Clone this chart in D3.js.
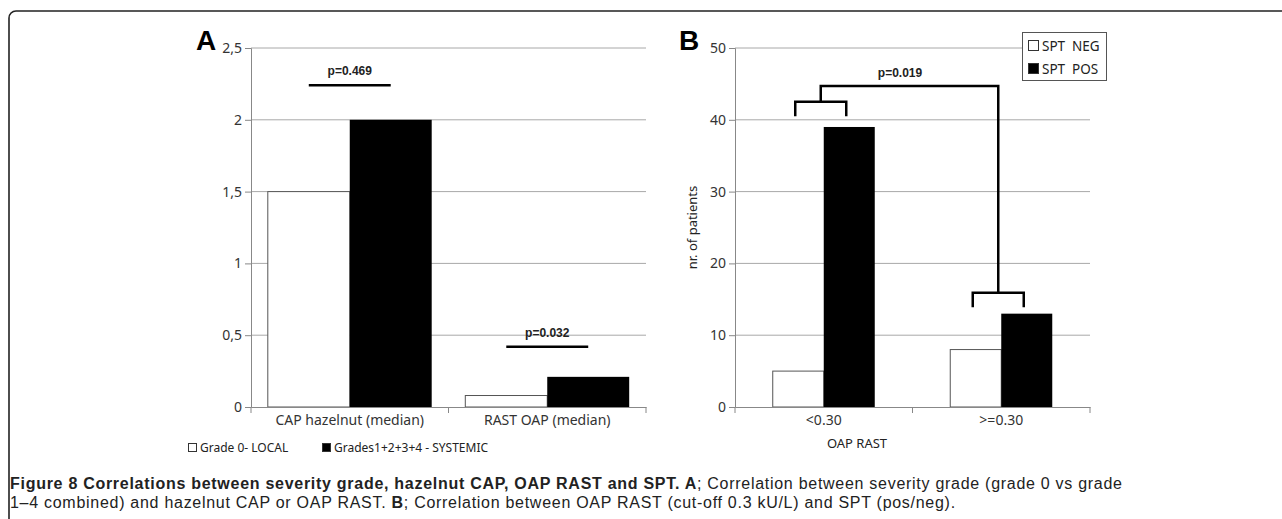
<!DOCTYPE html>
<html>
<head>
<meta charset="utf-8">
<script src="https://cdn.jsdelivr.net/npm/d3@7"></script>
<style>
  body { margin: 0; background: #fff; overflow: hidden; }
  svg { display: block; }
</style>
</head>
<body>
<script>
// panel A data: median values by severity grade
var catsA = ["CAP hazelnut (median)", "RAST OAP (median)"];
var localA = [1.5, 0.08];
var systemicA = [2, 0.21];
var ticksA = [0, 0.5, 1, 1.5, 2, 2.5];
var pLabelsA = ["p=0.469", "p=0.032"];
var pLineA = [2.24, 0.42];   // y value of the p-value bar

// panel B data: number of patients by OAP RAST cut-off
var catsB = ["<0.30", ">=0.30"];
var negB = [5, 8];
var posB = [39, 13];
var ticksB = [0, 10, 20, 30, 40, 50];

var W = 1282, H = 519;
var svg = d3.select("body").append("svg")
    .attr("width", W)
    .attr("height", H);

// frame: only the top and left sides show, rounded top-left corner
var frame = d3.path();
frame.moveTo(9, H + 5);
frame.lineTo(9, 18);
frame.arcTo(9, 11, 16, 11, 7);
frame.lineTo(W + 5, 11);
svg.append("path")
    .attr("d", frame.toString())
    .style("fill", "none")
    .style("stroke", "#222")
    .style("stroke-width", 1.6);

var axisFont = "'Noto Sans', 'Open Sans', sans-serif";

// ---------------------------------------------------------------- panel A
var yA = d3.scaleLinear().domain([0, 2.5]).range([407, 48]);
var x0A = d3.scaleBand().domain(catsA).range([251, 646]);
var x1A = d3.scaleBand().domain(["local", "systemic"])
    .range([0, x0A.bandwidth()]).paddingOuter(0.205);

var gA = svg.append("g");

gA.append("g")
    .selectAll("line")
    .data(ticksA.slice(1))
    .enter()
    .append("line")
    .attr("x1", 251).attr("x2", 646)
    .attr("y1", function(d) { return yA(d); })
    .attr("y2", function(d) { return yA(d); })
    .style("stroke", "#a8a8a8");

catsA.forEach(function(c, i) {
    gA.append("rect")
        .attr("x", x0A(c) + x1A("local"))
        .attr("y", yA(localA[i]))
        .attr("width", x1A.bandwidth())
        .attr("height", yA(0) - yA(localA[i]))
        .style("fill", "#fff")
        .style("stroke", "#555");
    gA.append("rect")
        .attr("x", x0A(c) + x1A("systemic"))
        .attr("y", yA(systemicA[i]))
        .attr("width", x1A.bandwidth())
        .attr("height", yA(0) - yA(systemicA[i]))
        .style("fill", "#000");

    var cx1 = x0A(c) + x1A("local") + x1A.bandwidth() / 2;
    var cx2 = x0A(c) + x1A("systemic") + x1A.bandwidth() / 2;
    gA.append("line")
        .attr("x1", cx1).attr("x2", cx2)
        .attr("y1", yA(pLineA[i])).attr("y2", yA(pLineA[i]))
        .style("stroke", "#000")
        .style("stroke-width", 2.5);
    gA.append("text")
        .attr("x", (cx1 + cx2) / 2)
        .attr("y", yA(pLineA[i]) - 10)
        .attr("text-anchor", "middle")
        .style("font-family", "'Liberation Sans', Arial, sans-serif")
        .style("font-weight", "bold")
        .style("font-size", "12px")
        .style("fill", "#222")
        .text(pLabelsA[i]);
});

var axisYA = d3.axisLeft(yA).tickValues(ticksA).tickSize(6).tickPadding(3)
    .tickFormat(function(d) { return String(d).replace(".", ","); });
gA.append("g")
    .attr("class", "axis")
    .attr("transform", "translate(251,0)")
    .call(axisYA);

var axisXA = d3.axisBottom(x0A).tickSize(0).tickPadding(8);
gA.append("g")
    .attr("class", "axis")
    .attr("transform", "translate(0,407)")
    .call(axisXA);
// category boundary ticks
gA.append("g")
    .selectAll("line")
    .data([251, x0A(catsA[1]), 646])
    .enter()
    .append("line")
    .attr("x1", function(d) { return d; })
    .attr("x2", function(d) { return d; })
    .attr("y1", 407).attr("y2", 413)
    .style("stroke", "#888");

gA.append("text")
    .attr("x", 196).attr("y", 50)
    .style("font-family", "'Liberation Sans', Arial, sans-serif")
    .style("font-weight", "bold")
    .style("font-size", "28px")
    .text("A");

// legend A
var legA = [{label: "Grade 0- LOCAL", fill: "#fff", x: 188},
            {label: "Grades1+2+3+4 - SYSTEMIC", fill: "#000", x: 322}];
legA.forEach(function(d) {
    gA.append("rect")
        .attr("x", d.x + 0.5).attr("y", 443.5)
        .attr("width", 8).attr("height", 8)
        .style("fill", d.fill)
        .style("stroke", "#333");
    gA.append("text")
        .attr("x", d.x + 12).attr("y", 452)
        .style("font-family", axisFont)
        .style("font-size", "12px")
        .style("fill", "#222")
        .text(d.label);
});

// ---------------------------------------------------------------- panel B
var yB = d3.scaleLinear().domain([0, 50]).range([407, 48]);
var x0B = d3.scaleBand().domain(catsB).range([735, 1090]);
var x1B = d3.scaleBand().domain(["neg", "pos"])
    .range([0, x0B.bandwidth()]).paddingOuter(0.74);

var gB = svg.append("g");

gB.append("g")
    .selectAll("line")
    .data(ticksB.slice(1))
    .enter()
    .append("line")
    .attr("x1", 735).attr("x2", 1090)
    .attr("y1", function(d) { return yB(d); })
    .attr("y2", function(d) { return yB(d); })
    .style("stroke", "#a8a8a8");

var centers = [];
catsB.forEach(function(c, i) {
    gB.append("rect")
        .attr("x", x0B(c) + x1B("neg"))
        .attr("y", yB(negB[i]))
        .attr("width", x1B.bandwidth())
        .attr("height", yB(0) - yB(negB[i]))
        .style("fill", "#fff")
        .style("stroke", "#555");
    gB.append("rect")
        .attr("x", x0B(c) + x1B("pos"))
        .attr("y", yB(posB[i]))
        .attr("width", x1B.bandwidth())
        .attr("height", yB(0) - yB(posB[i]))
        .style("fill", "#000");
    centers.push([x0B(c) + x1B("neg") + x1B.bandwidth() / 2 - 3,
                  x0B(c) + x1B("pos") + x1B.bandwidth() / 2 - 3]);
});

// significance bracket between the two groups
var legLow = [40.5, 13.9], legHigh = [42.5, 15.9], topY = 44.7;
var mid1 = (centers[0][0] + centers[0][1]) / 2;
var mid2 = (centers[1][0] + centers[1][1]) / 2;
var bracket = d3.path();
bracket.moveTo(centers[0][0], yB(legLow[0]));
bracket.lineTo(centers[0][0], yB(legHigh[0]));
bracket.lineTo(centers[0][1], yB(legHigh[0]));
bracket.lineTo(centers[0][1], yB(legLow[0]));
bracket.moveTo(mid1, yB(legHigh[0]));
bracket.lineTo(mid1, yB(topY));
bracket.lineTo(mid2, yB(topY));
bracket.lineTo(mid2, yB(legHigh[1]));
bracket.moveTo(centers[1][0], yB(legLow[1]));
bracket.lineTo(centers[1][0], yB(legHigh[1]));
bracket.lineTo(centers[1][1], yB(legHigh[1]));
bracket.lineTo(centers[1][1], yB(legLow[1]));
gB.append("path")
    .attr("d", bracket.toString())
    .style("fill", "none")
    .style("stroke", "#000")
    .style("stroke-width", 2.5);

gB.append("text")
    .attr("x", 900).attr("y", yB(topY) - 9)
    .attr("text-anchor", "middle")
    .style("font-family", "'Liberation Sans', Arial, sans-serif")
    .style("font-weight", "bold")
    .style("font-size", "12px")
    .style("fill", "#222")
    .text("p=0.019");

var axisYB = d3.axisLeft(yB).tickValues(ticksB).tickSize(6).tickPadding(3);
gB.append("g")
    .attr("class", "axis")
    .attr("transform", "translate(735,0)")
    .call(axisYB);

var axisXB = d3.axisBottom(x0B).tickSize(0).tickPadding(8);
gB.append("g")
    .attr("class", "axis")
    .attr("transform", "translate(0,407)")
    .call(axisXB);
gB.append("g")
    .selectAll("line")
    .data([735, x0B(catsB[1]), 1090])
    .enter()
    .append("line")
    .attr("x1", function(d) { return d; })
    .attr("x2", function(d) { return d; })
    .attr("y1", 407).attr("y2", 413)
    .style("stroke", "#888");

gB.append("text")
    .attr("transform", "translate(697,227.5) rotate(-90)")
    .attr("text-anchor", "middle")
    .style("font-family", axisFont)
    .style("font-size", "13px")
    .style("fill", "#222")
    .text("nr. of patients");

gB.append("text")
    .attr("x", 857).attr("y", 448)
    .attr("text-anchor", "middle")
    .style("font-family", axisFont)
    .style("font-size", "13px")
    .style("fill", "#222")
    .text("OAP RAST");

gB.append("text")
    .attr("x", 679).attr("y", 50)
    .style("font-family", "'Liberation Sans', Arial, sans-serif")
    .style("font-weight", "bold")
    .style("font-size", "28px")
    .text("B");

// legend B
gB.append("rect")
    .attr("x", 1022.5).attr("y", 32.5)
    .attr("width", 84).attr("height", 48)
    .style("fill", "#fff")
    .style("stroke", "#555");
var legB = [{label: "SPT\u00a0\u00a0NEG", fill: "#fff", y: 46},
            {label: "SPT\u00a0\u00a0POS", fill: "#000", y: 69}];
legB.forEach(function(d) {
    gB.append("rect")
        .attr("x", 1028.5).attr("y", d.y - 5.5)
        .attr("width", 10).attr("height", 10)
        .style("fill", d.fill)
        .style("stroke", "#333");
    gB.append("text")
        .attr("x", 1042).attr("y", d.y + 5)
        .style("font-family", axisFont)
        .style("font-size", "13.5px")
        .style("fill", "#222")
        .text(d.label);
});

// axis styling
svg.selectAll(".axis path.domain").style("stroke", "#888");
svg.selectAll(".axis .tick line").style("stroke", "#888");
svg.selectAll(".axis .tick text")
    .style("font-family", axisFont)
    .style("font-size", "14px")
    .style("fill", "#333");

// ---------------------------------------------------------------- caption
var cap = svg.append("g")
    .style("font-family", "'Liberation Sans', Arial, sans-serif")
    .style("font-size", "16px")
    .style("letter-spacing", "0.72px")
    .style("fill", "#222");
var line1 = cap.append("text").attr("x", 10).attr("y", 489);
line1.append("tspan").style("font-weight", "bold")
    .text("Figure 8 Correlations between severity grade, hazelnut CAP, OAP RAST and SPT. A");
line1.append("tspan")
    .text("; Correlation between severity grade (grade 0 vs grade");
var line2 = cap.append("text").attr("x", 10).attr("y", 508);
line2.append("tspan").text("1\u20134 combined) and hazelnut CAP or OAP RAST. ");
line2.append("tspan").style("font-weight", "bold").text("B");
line2.append("tspan")
    .text("; Correlation between OAP RAST (cut-off 0.3 kU/L) and SPT (pos/neg).");
</script>
</body>
</html>
